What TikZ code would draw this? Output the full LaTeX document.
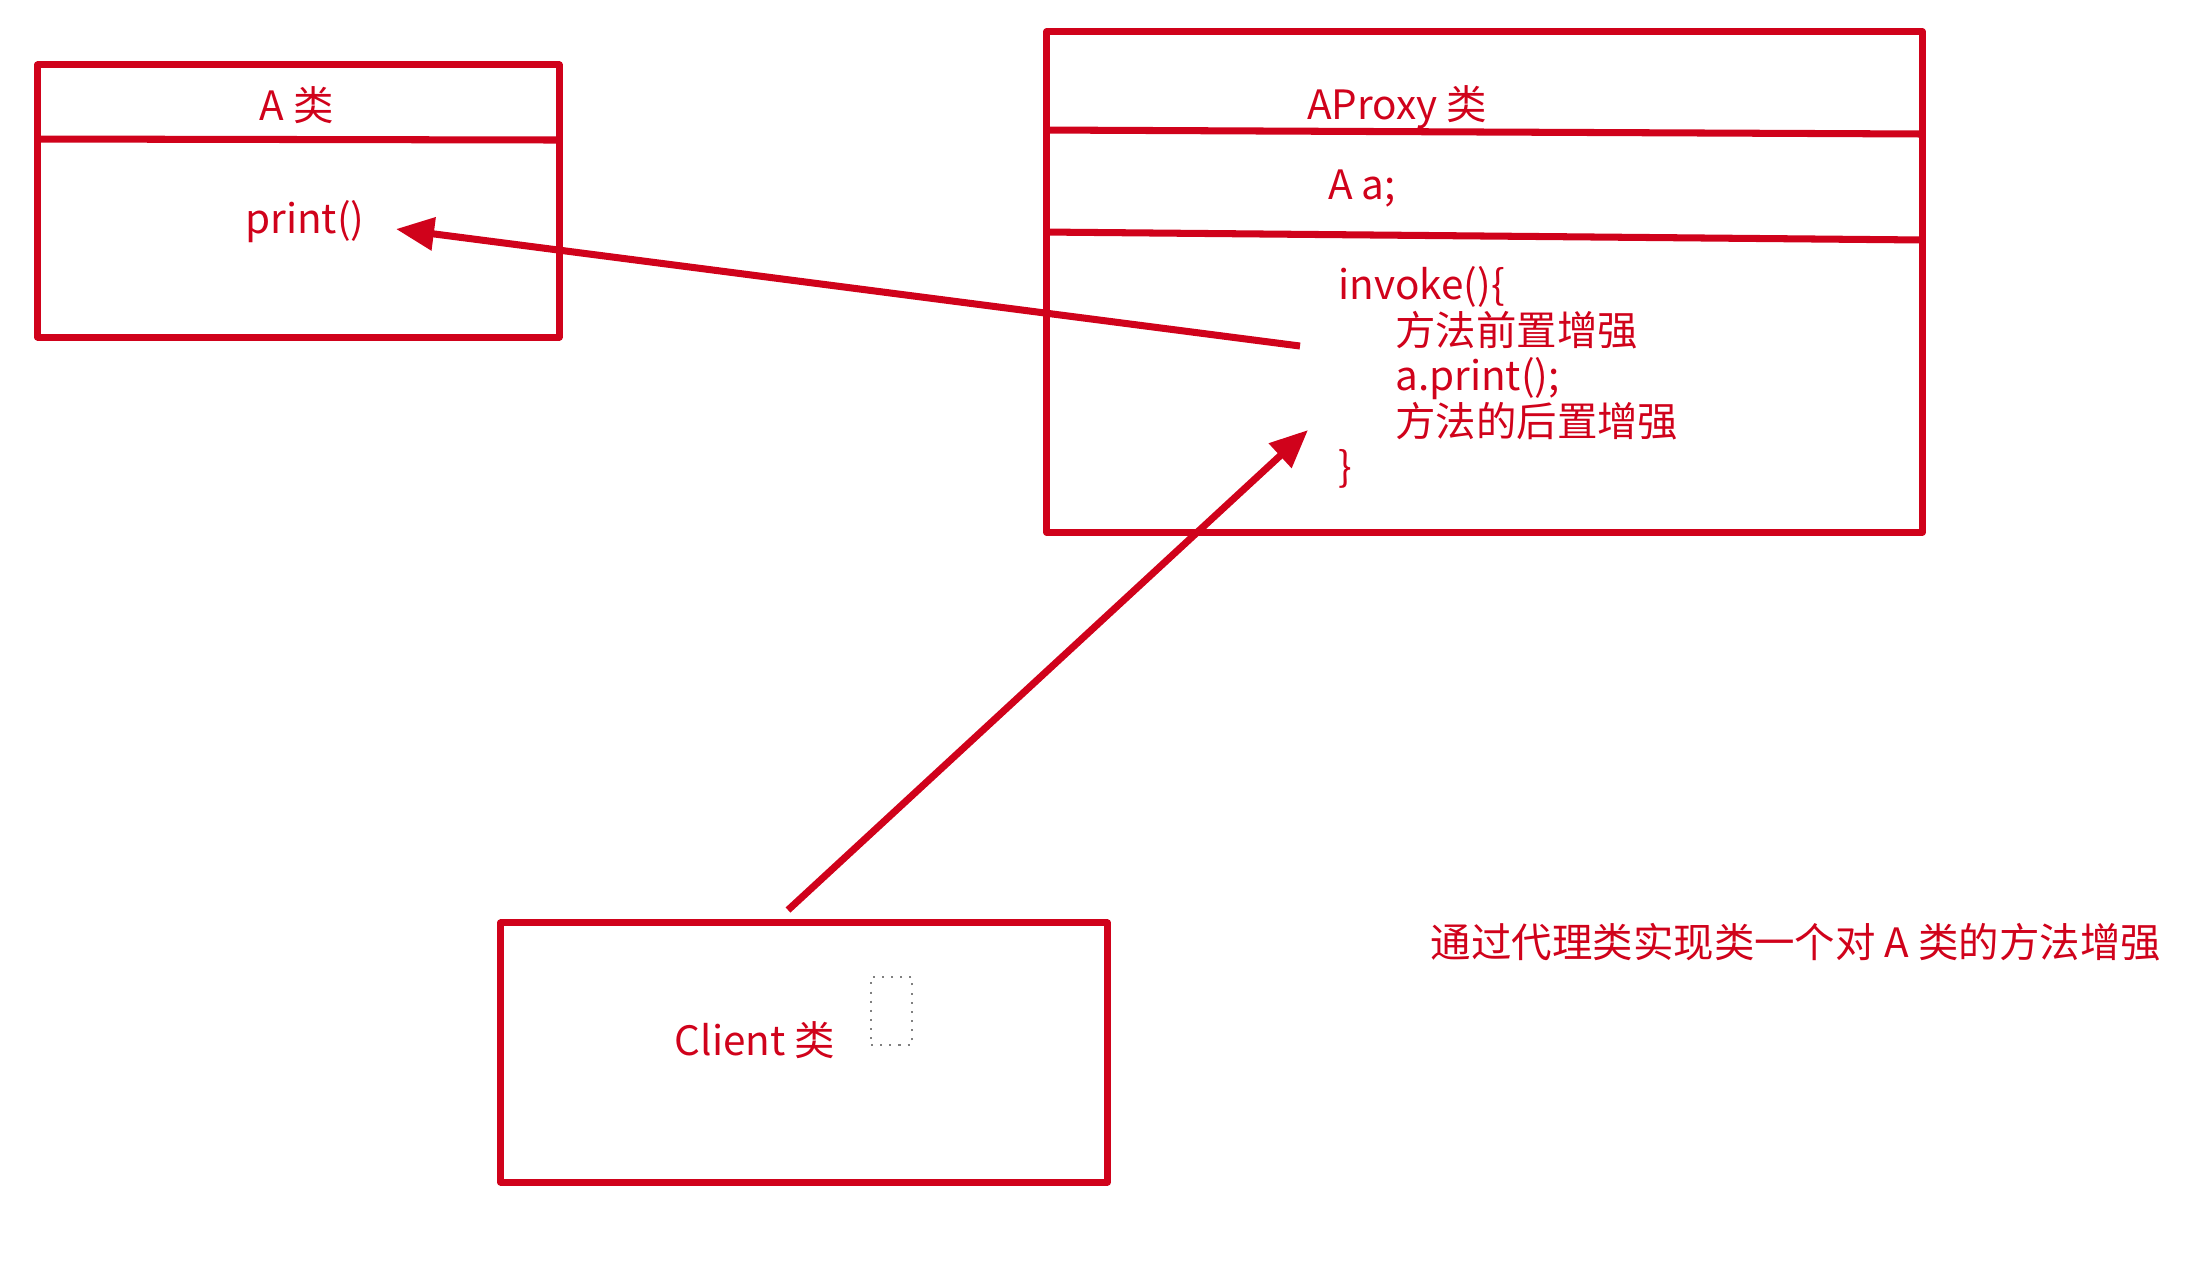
\documentclass[tikz,border=0pt]{standalone}
\usepackage{fontspec}
\setmainfont{Noto Sans CJK SC}
\usetikzlibrary{arrows.meta}
\definecolor{umlred}{RGB}{208,2,27}

\begin{document}
\begin{tikzpicture}[x=0.01cm, y=-0.01cm]

  \tikzstyle{classbox} = [rectangle, draw=umlred, line width=2pt, line join=round]
  \tikzstyle{classtext} = [text=umlred, font=\fontsize{11.5pt}{13pt}\selectfont, inner sep=0pt]
  \tikzstyle{divider} = [draw=umlred, line width=2pt]
  \tikzstyle{arrow} = [umlred, line width=2pt, -{Triangle[length=0.38cm, width=0.32cm]}]

  \useasboundingbox (0,0) rectangle (2200,1262);

  \node (aclass) [classbox, minimum width=5.21cm, minimum height=2.72cm] at (298.5,201) {};
  \node (proxy)  [classbox, minimum width=8.75cm, minimum height=5cm] at (1484.5,282) {};
  \node (client) [classbox, minimum width=6.06cm, minimum height=2.59cm] at (804,1052.5) {};

  \draw [divider] (aclass.west |- 0,139) -- (aclass.east |- 0,140);
  \draw [divider] (proxy.west |- 0,130) -- (proxy.east |- 0,134);
  \draw [divider] (proxy.west |- 0,232) -- (proxy.east |- 0,240);

  \node (aname)  [classtext] at (297,105) {A 类};
  \node (aprint) [classtext] at (305,222) {print()};
  \node (pname)  [classtext] at (1397,107) {AProxy 类};
  \node (pfield) [classtext] at (1362,189) {A a;};
  \node (pinvoke) [classtext, align=left, anchor=north west, font=\fontsize{11.5pt}{12.95pt}\selectfont] at (1338,266)
    {invoke()\{\\
     \hspace*{1.4em}方法前置增强\\
     \hspace*{1.4em}a.print();\\
     \hspace*{1.4em}方法的后置增强\\
     \}};
  \node (clientname) [classtext] at (755,1040) {Client 类};
  \node (cursor) [rectangle, draw=gray, dotted, line width=0.6pt, minimum width=0.41cm, minimum height=0.68cm] at (891.5,1011) {};
  \node (summary) [classtext] at (1796,942) {通过代理类实现类一个对 A 类的方法增强};

  \coordinate (callstart) at (1300,346);
  \coordinate (calltip) at (396,229);
  \coordinate (clientstart) at (788,910);
  \coordinate (invoketip) at (1308,430);

  \draw [arrow] (callstart) -- (calltip);
  \draw [arrow] (clientstart) -- (invoketip);

\end{tikzpicture}
\end{document}
